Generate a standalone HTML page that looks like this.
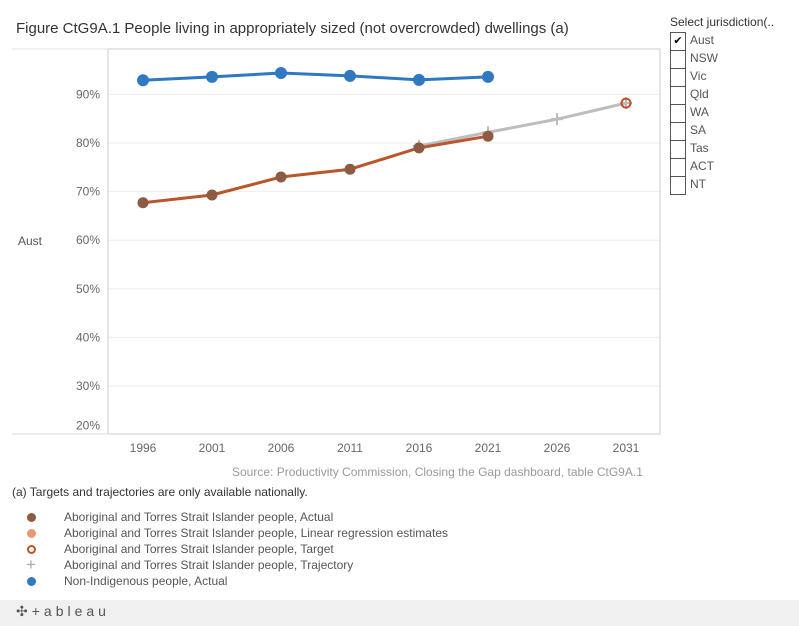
<!DOCTYPE html>
<html><head><meta charset="utf-8"><style>
body{margin:0;width:799px;height:626px;overflow:hidden;background:#fff;font-family:"Liberation Sans",sans-serif;position:relative}
.a{position:absolute;white-space:nowrap}
.cb{position:absolute;left:670px;width:16px;height:16px;border:1px solid #555;box-sizing:border-box;background:#fff}
.cl{position:absolute;left:690px;font-size:12px;color:#555}
.lg{position:absolute;left:64px;font-size:12px;color:#555}
</style></head><body>
<div class="a" style="left:16px;top:20px;font-size:15px;color:#333">Figure CtG9A.1 People living in appropriately sized (not overcrowded) dwellings (a)</div>
<svg class="a" style="left:0;top:0" width="799" height="600">
<g id="grid"></g><g id="marks"></g>
</svg>
<div class="a" style="left:18px;top:234px;font-size:12px;color:#555">Aust</div>
<div class="a" style="left:232px;top:465px;font-size:12px;color:#999">Source: Productivity Commission, Closing the Gap dashboard, table CtG9A.1</div>
<div class="a" style="left:12px;top:485px;font-size:12px;color:#333">(a) Targets and trajectories are only available nationally.</div>
<div class="a" style="left:670px;top:15px;font-size:12px;color:#333">Select jurisdiction(..</div>
<div id="filters"></div>
<div id="legend"></div>
<div class="a" style="left:0;top:600px;width:799px;height:26px;background:#f0f0f0"></div>
<div class="a" style="left:16px;top:603px;font-size:14px;color:#555;letter-spacing:4px">✣+ableau</div>
<script>
const years=[1996,2001,2006,2011,2016,2021,2026,2031];
const ticks=[20,30,40,50,60,70,80,90];
const nonIndYears=[1996,2001,2006,2011,2016,2021];
const nonInd=[92.9,93.6,94.4,93.8,93.0,93.6];
const indYears=[1996,2001,2006,2011,2016,2021];
const ind=[67.7,69.3,73.0,74.6,79.0,81.4];
const trajYears=[2016,2021,2026,2031];
const traj=[79.4,82.2,84.9,88.2];
const targetYears=[2031];
const target=[88.2];
const jur=["Aust","NSW","Vic","Qld","WA","SA","Tas","ACT","NT"];
const legendLabels=["Aboriginal and Torres Strait Islander people, Actual","Aboriginal and Torres Strait Islander people, Linear regression estimates","Aboriginal and Torres Strait Islander people, Target","Aboriginal and Torres Strait Islander people, Trajectory","Non-Indigenous people, Actual"];

const X=y=>143+(y-1996)*13.8;
const Y=v=>94.4+(90-v)*4.86;
const NS="http://www.w3.org/2000/svg";
function mk(p,t,at){const e=document.createElementNS(NS,t);for(const k in at)e.setAttribute(k,at[k]);p.appendChild(e);return e;}
const g=document.getElementById('grid'),m=document.getElementById('marks');
ticks.forEach(t=>{
 if(t>20){const l=mk(g,'line',{x1:108,x2:660,y1:Y(t),y2:Y(t),stroke:'#eee'});
 }
 const tx=mk(g,'text',{x:100,y:t==20?Y(t)-5:Y(t)+4,'text-anchor':'end','font-size':12,fill:'#666'});
 tx.textContent=t+'%';
 
});
years.forEach(y=>{const tx=mk(g,'text',{x:X(y),y:452,'text-anchor':'middle','font-size':12,fill:'#666'});tx.textContent=y;
 });
mk(g,'rect',{x:108,y:49,width:552,height:385,fill:'none',stroke:'#ccc'});
mk(g,'line',{x1:12,x2:108,y1:49,y2:49,stroke:'#e4e4e4'});
mk(g,'line',{x1:12,x2:108,y1:434,y2:434,stroke:'#ddd'});
function line(xs,vs,col,name){const p=mk(m,'polyline',{points:xs.map((x,i)=>X(x)+','+Y(vs[i])).join(' '),fill:'none',stroke:col,'stroke-width':3});
 }
line(trajYears,traj,'#bdbdbd','trajectory-line');
trajYears.forEach((y,i)=>{const c=mk(m,'path',{d:`M${X(y)-6},${Y(traj[i])}h12M${X(y)},${Y(traj[i])-6}v12`,stroke:'#bbb','stroke-width':2});
 });
line(indYears,ind,'#b9562b','indigenous-line');
indYears.forEach((y,i)=>{const c=mk(m,'circle',{cx:X(y),cy:Y(ind[i]),r:5.5,fill:'#8d5b42'});
 });
line(nonIndYears,nonInd,'#2f78c2','non-indigenous-line');
nonIndYears.forEach((y,i)=>{const c=mk(m,'circle',{cx:X(y),cy:Y(nonInd[i]),r:6,fill:'#2f78c2'});
 });
targetYears.forEach((y,i)=>{const c=mk(m,'circle',{cx:X(y),cy:Y(target[i]),r:4.5,fill:'none',stroke:'#c0522a','stroke-width':2});
 });
const f=document.getElementById('filters');
jur.forEach((j,i)=>{const top=32+i*18;
 const b=document.createElement('div');b.className='cb';b.style.top=top+'px';b.style.height='19px';
 if(i==0){b.textContent='✔';b.style.fontSize='11px';b.style.lineHeight='16px';b.style.textAlign='center';}
 f.appendChild(b);
 const l=document.createElement('div');l.className='cl';l.style.top=(top+1)+'px';l.textContent=j;
 f.appendChild(l);});
const lgd=document.getElementById('legend');
const syms=['#8d5b42','#e79a71','#c0522a','#aaa','#2f78c2'];
legendLabels.forEach((t,i)=>{const top=510+i*16;
 const s=document.createElement('div');s.className='a';
 if(i==3){s.style.cssText=`left:26px;top:${top-3}px;font-size:17px;color:#aaa`;s.textContent='+';}
 else if(i==2){s.style.cssText=`left:27px;top:${top+3}px;width:5px;height:5px;border:2px solid ${syms[i]};border-radius:50%`;}
 else{s.style.cssText=`left:27px;top:${top+3}px;width:9px;height:9px;background:${syms[i]};border-radius:50%`;}
 lgd.appendChild(s);
 const l=document.createElement('div');l.className='lg';l.style.top=top+'px';l.textContent=t;
 lgd.appendChild(l);});
</script>
</body></html>
